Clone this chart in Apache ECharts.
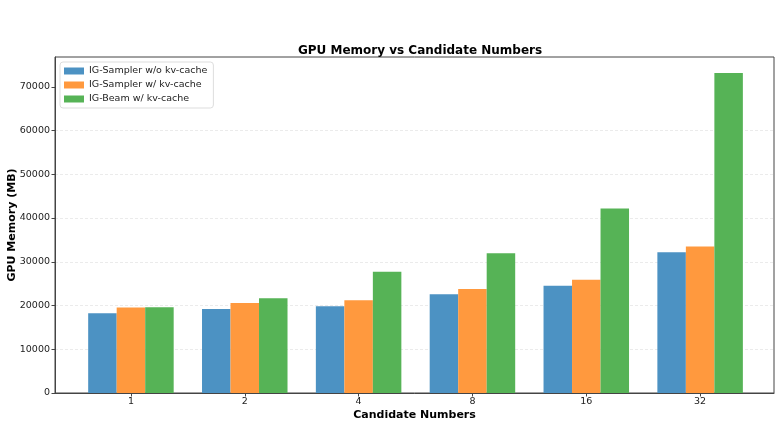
<!DOCTYPE html>
<html>
<head>
<meta charset="utf-8">
<script src="https://cdn.jsdelivr.net/npm/echarts@6/dist/echarts.min.js"></script>
<style>
  html, body { margin: 0; padding: 0; background: #fff; }
  #chartmain { width: 782px; height: 425px; }
</style>
</head>
<body>
<div id="chartmain"></div>
<script>
// 数据
var categories = ['1', '2', '4', '8', '16', '32'];
var seriesNames = ['IG-Sampler w/o kv-cache', 'IG-Sampler w/ kv-cache', 'IG-Beam w/ kv-cache'];
var samplerNoCache = [18240, 19220, 19840, 22590, 24490, 32200];
var samplerCache = [19520, 20600, 21210, 23800, 25860, 33480];
var beamCache = [19580, 21670, 27690, 31970, 42180, 73160];
var yTicks = [0, 10000, 20000, 30000, 40000, 50000, 60000, 70000];

var colors = ['#4c92c3', '#ff993e', '#56b356'];
var font = 'DejaVu Sans';

function toPoints(arr) {
  return arr.map(function (v, i) { return [i, v]; });
}

var myChart = echarts.init(document.getElementById('chartmain'));
myChart.setOption({
  animation: false,
  textStyle: { fontFamily: font },
  title: {
    text: 'GPU Memory vs Candidate Numbers',
    left: 415,
    top: 40,
    textAlign: 'center',
    textStyle: { fontSize: 12, fontWeight: 'bold', color: '#000', fontFamily: font }
  },
  grid: {
    left: 55, right: 8, top: 57, bottom: 32,
    outerBoundsMode: 'none',
    containLabel: false,
    show: true, borderColor: '#444', borderWidth: 1
  },
  legend: {
    orient: 'vertical',
    left: 60,
    top: 62,
    padding: [4, 6, 4, 4],
    itemWidth: 20,
    itemHeight: 7,
    itemGap: 4,
    icon: 'rect',
    backgroundColor: '#fff',
    borderColor: '#ddd',
    borderWidth: 1,
    borderRadius: 3,
    textStyle: { fontSize: 9.5, color: '#222', fontFamily: font },
    data: seriesNames
  },
  xAxis: {
    type: 'value',
    min: -0.667,
    max: 5.649,
    name: 'Candidate Numbers',
    nameLocation: 'middle',
    nameGap: 17,
    nameMoveOverlap: false,
    nameTextStyle: { fontSize: 11, fontWeight: 'bold', color: '#000' },
    axisLine: { onZero: false, lineStyle: { color: '#444' } },
    axisTick: { customValues: [0, 1, 2, 3, 4, 5], length: 3.5, lineStyle: { color: '#444' } },
    axisLabel: {
      customValues: [0, 1, 2, 3, 4, 5],
      fontSize: 9.5, color: '#222', margin: 4,
      formatter: function (v) { return categories[Math.round(v)]; }
    },
    splitLine: { show: false }
  },
  yAxis: {
    type: 'value',
    min: 0,
    max: 76800,
    interval: 10000,
    name: 'GPU Memory (MB)',
    nameLocation: 'middle',
    nameGap: 37,
    nameMoveOverlap: false,
    nameTextStyle: { fontSize: 11, fontWeight: 'bold', color: '#000' },
    axisLine: { show: true, onZero: false, lineStyle: { color: '#444' } },
    axisTick: { show: true, customValues: yTicks, length: 3.5, lineStyle: { color: '#444' } },
    axisLabel: {
      customValues: yTicks,
      fontSize: 9.5, color: '#222', margin: 5,
      formatter: function (v) { return String(v); }
    },
    splitLine: { showMaxLine: false, lineStyle: { type: [3, 2], color: '#ebebeb' } }
  },
  series: [
    { name: seriesNames[0], type: 'bar', data: toPoints(samplerNoCache), barWidth: 28.5, barGap: '0%', itemStyle: { color: colors[0] } },
    { name: seriesNames[1], type: 'bar', data: toPoints(samplerCache), barWidth: 28.5, barGap: '0%', itemStyle: { color: colors[1] } },
    { name: seriesNames[2], type: 'bar', data: toPoints(beamCache), barWidth: 28.5, barGap: '0%', itemStyle: { color: colors[2] } }
  ]
});
</script>
</body>
</html>
